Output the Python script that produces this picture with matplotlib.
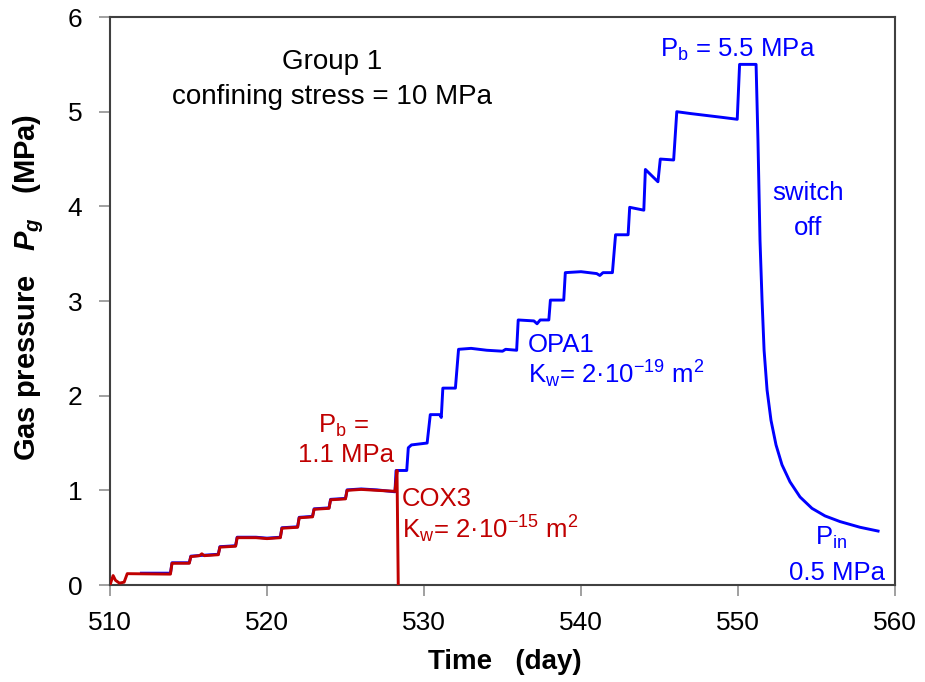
"""Gas injection test: gas pressure vs time for COX3 and OPA1 (group 1)."""
import matplotlib

matplotlib.use("Agg")
import matplotlib.pyplot as plt

# COX3 sample (red)
cox3_day = [510.0, 510.2, 510.35, 510.6, 510.9, 511.1, 513.85, 513.95, 515.05, 515.15,
            515.7, 515.85, 516.0, 516.9, 517.0, 518.0, 518.1, 519.3, 520.0, 520.85,
            520.95, 521.95, 522.05, 522.9, 523.0, 523.95, 524.05, 525.0, 525.1, 526.0,
            527.0, 528.15, 528.28, 528.36]
cox3_p = [0.0, 0.10, 0.05, 0.02, 0.03, 0.12, 0.115, 0.23, 0.23, 0.30,
          0.31, 0.33, 0.31, 0.32, 0.40, 0.41, 0.50, 0.50, 0.49, 0.50,
          0.60, 0.61, 0.71, 0.72, 0.80, 0.81, 0.90, 0.91, 1.00, 1.01,
          1.00, 0.99, 1.21, 0.0]

# OPA1 sample (blue), steps then pressure decay after switch off
opa1_day = [512.0, 513.85, 513.95, 515.05, 515.15, 516.9, 517.0, 518.0, 518.1, 519.3,
            520.0, 520.85, 520.95, 521.95, 522.05, 522.9, 523.0, 523.95, 524.05, 525.0,
            525.1, 526.0, 527.0, 528.15, 528.22, 528.9, 529.0, 529.2, 530.2, 530.4,
            531.0, 531.1, 531.2, 532.0, 532.2, 533.0, 534.0, 535.0, 535.2, 535.9,
            536.0, 537.0, 537.2, 537.4, 537.95, 538.05, 538.9, 539.0, 540.0, 541.0,
            541.2, 541.4, 542.0, 542.2, 543.0, 543.1, 544.0, 544.1, 544.9, 545.05,
            545.9, 546.1, 547.0, 548.0, 549.0, 549.95, 550.1, 551.15, 551.27, 551.40,
            551.53, 551.66, 551.85, 552.10, 552.42, 552.80, 553.31, 553.95, 554.71, 555.54,
            556.50, 557.77, 558.92]
opa1_p = [0.125, 0.125, 0.235, 0.235, 0.305, 0.325, 0.405, 0.415, 0.505, 0.505,
          0.495, 0.505, 0.605, 0.615, 0.715, 0.725, 0.805, 0.815, 0.905, 0.915,
          1.005, 1.015, 1.005, 0.985, 1.21, 1.21, 1.45, 1.48, 1.50, 1.80,
          1.80, 1.77, 2.08, 2.08, 2.49, 2.50, 2.48, 2.47, 2.49, 2.48,
          2.80, 2.79, 2.76, 2.80, 2.80, 3.01, 3.01, 3.30, 3.31, 3.29,
          3.27, 3.30, 3.30, 3.70, 3.70, 3.99, 3.96, 4.39, 4.26, 4.50,
          4.49, 5.00, 4.98, 4.96, 4.94, 4.92, 5.50, 5.50, 4.70, 3.64,
          3.01, 2.48, 2.06, 1.74, 1.48, 1.27, 1.09, 0.93, 0.81, 0.73,
          0.67, 0.61, 0.57]

x_ticks = [510, 520, 530, 540, 550, 560]
y_ticks = [0, 1, 2, 3, 4, 5, 6]

BLUE = "#0000FF"
RED = "#C00000"
AX_COL = "#404040"

plt.rcParams["font.family"] = ["Liberation Sans", "DejaVu Sans"]
plt.rcParams["mathtext.fontset"] = "custom"
plt.rcParams["mathtext.rm"] = "Liberation Sans"
plt.rcParams["mathtext.it"] = "Liberation Sans:italic:bold"
plt.rcParams["mathtext.bf"] = "Liberation Sans:bold"

fig = plt.figure(figsize=(9.25, 6.82), dpi=100)
ax = fig.add_axes([0.1189, 0.1422, 0.8487, 0.8328])

ax.plot(opa1_day, opa1_p, color=BLUE, lw=2.1, zorder=2)
ax.plot(cox3_day, cox3_p, color=RED, lw=2.1, zorder=3)

ax.set_xlim(x_ticks[0], x_ticks[-1])
ax.set_ylim(y_ticks[0], y_ticks[-1])
ax.set_xticks(x_ticks)
ax.set_yticks(y_ticks)
ax.tick_params(axis="both", direction="out", length=8, width=1.2, color="#909090",
               labelsize=19, labelcolor="black")
ax.tick_params(axis="x", pad=11)
ax.tick_params(axis="y", pad=12)
for side in ["left", "bottom", "top", "right"]:
    ax.spines[side].set_linewidth(1.5)
    ax.spines[side].set_color(AX_COL)

ax.set_xlabel("Time   (day)", fontsize=20, fontweight="bold")
ax.set_ylabel("Gas pressure   $P_g$   (MPa)", fontsize=21, fontweight="bold")
ax.xaxis.set_label_coords(0.503, -0.112)
ax.yaxis.set_label_coords(-0.082, 0.524)

fs = 18.5
# black header
ax.text(524.14, 5.52, "Group 1", fontsize=20, ha="center", va="center")
ax.text(524.14, 5.155, "confining stress = 10 MPa", fontsize=20, ha="center", va="center")

# OPA1 annotations (blue)
ax.text(550.0, 5.58, r"$\mathrm{P_b}$ = 5.5 MPa", color=BLUE, fontsize=fs,
        ha="center", va="baseline")
ax.text(554.46, 4.14, "switch", color=BLUE, fontsize=fs, ha="center", va="center")
ax.text(554.46, 3.77, "off", color=BLUE, fontsize=fs, ha="center", va="center")
ax.text(536.62, 2.46, "OPA1", color=BLUE, fontsize=fs, ha="left", va="baseline")
ax.text(536.62, 2.13, r"$\mathrm{K_w}$= 2·10$^{\mathrm{-19}}$ m$^{\mathrm{2}}$",
        color=BLUE, fontsize=fs, ha="left", va="baseline")
ax.text(554.9, 0.42, r"$\mathrm{P_{in}}$", color=BLUE, fontsize=fs, ha="left", va="baseline")
ax.text(559.36, 0.053, "0.5 MPa", color=BLUE, fontsize=fs, ha="right", va="baseline")

# COX3 annotations (red)
ax.text(524.9, 1.605, r"$\mathrm{P_b}$ =", color=RED, fontsize=fs, ha="center", va="baseline")
ax.text(525.03, 1.30, "1.1 MPa", color=RED, fontsize=fs, ha="center", va="baseline")
ax.text(528.58, 0.83, "COX3", color=RED, fontsize=fs, ha="left", va="baseline")
ax.text(528.58, 0.49, r"$\mathrm{K_w}$= 2·10$^{\mathrm{-15}}$ m$^{\mathrm{2}}$",
        color=RED, fontsize=fs, ha="left", va="baseline")

fig.savefig("out.png", dpi=100)
plt.close(fig)
